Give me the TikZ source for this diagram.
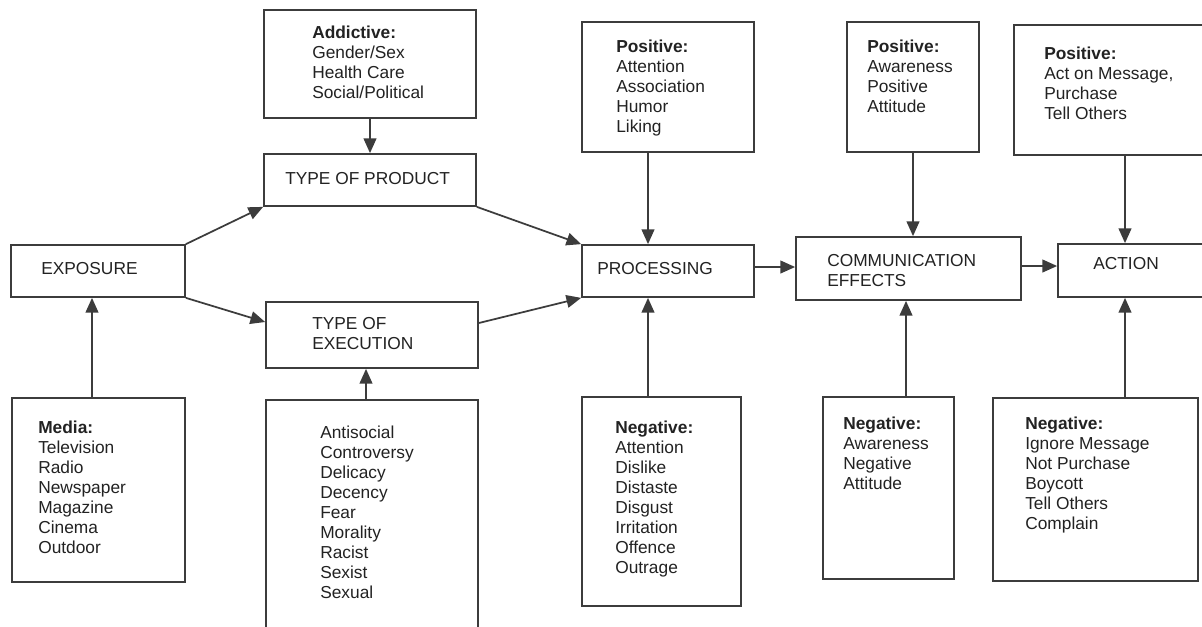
\documentclass[tikz,border=0pt]{standalone}
\usepackage{fontspec}
\setmainfont{Liberation Sans}
\usetikzlibrary{arrows.meta,positioning}

\definecolor{linegray}{HTML}{3C3C3C}
\definecolor{textgray}{HTML}{222222}

\begin{document}
\begin{tikzpicture}[x=0.75pt,y=-0.75pt]

\tikzset{box/.style 2 args={draw=linegray, line width=1.3pt, minimum width=#1*0.75pt, minimum height=#2*0.75pt, inner sep=0pt},
         txt/.style={font=\fontsize{13}{15}\selectfont, text=textgray, inner sep=0pt, align=left},
         flow/.style={draw=linegray, line width=1.3pt, -{Triangle[length=11pt,width=9.5pt]}}}

\useasboundingbox (0,0) rectangle (1202,626);
\fill[white] (0,0) rectangle (1202,626);
\clip (0,0) rectangle (1202,626);

% main chain
\node[box={174}{52}] (expo) at (98,271) {};
\node[txt, anchor=west] (expoT) at (41,269) {EXPOSURE};
\node[box={212}{52}] (prod) at (370,180) {};
\node[txt, anchor=west] (prodT) at (285,179) {TYPE OF PRODUCT};
\node[box={212}{66}] (exec) at (372,335) {};
\node[txt, anchor=north west] (execT) at (312,317) {TYPE OF\\EXECUTION};
\node[box={172}{52}] (proc) at (668,271) {};
\node[txt, anchor=west] (procT) at (597,269) {PROCESSING};
\node[box={225}{63}] (comm) at (908.5,268.5) {};
\node[txt, anchor=north west] (commT) at (827,254) {COMMUNICATION\\EFFECTS};
\node[box={160}{53}] (act) at (1138,270.5) {};
\node[txt, anchor=west] (actT) at (1093,264) {ACTION};

% upper boxes
\node[box={212}{108}] (addict) at (370,64) {};
\node[txt, anchor=north west] (addictT) at (312,26) {\textbf{Addictive:}\\Gender/Sex\\Health Care\\Social/Political};
\node[box={172}{130}] (procpos) at (668,87) {};
\node[txt, anchor=north west] (procposT) at (616,40) {\textbf{Positive:}\\Attention\\Association\\Humor\\Liking};
\node[box={132}{130}] (commpos) at (913,87) {};
\node[txt, anchor=north west] (commposT) at (867,40) {\textbf{Positive:}\\Awareness\\Positive\\Attitude};
\node[box={206}{130}] (actpos) at (1117,90) {};
\node[txt, anchor=north west] (actposT) at (1044,47) {\textbf{Positive:}\\Act on Message,\\Purchase\\Tell Others};

% lower boxes
\node[box={173}{184}] (media) at (98.5,490) {};
\node[txt, anchor=north west] (mediaT) at (38,421) {\textbf{Media:}\\Television\\Radio\\Newspaper\\Magazine\\Cinema\\Outdoor};
\node[box={212}{250}] (appeal) at (372,525) {};
\node[txt, anchor=north west] (appealT) at (320,426) {Antisocial\\Controversy\\Delicacy\\Decency\\Fear\\Morality\\Racist\\Sexist\\Sexual};
\node[box={159}{209}] (procneg) at (661.5,501.5) {};
\node[txt, anchor=north west] (procnegT) at (615,421) {\textbf{Negative:}\\Attention\\Dislike\\Distaste\\Disgust\\Irritation\\Offence\\Outrage};
\node[box={131}{182}] (commneg) at (888.5,488) {};
\node[txt, anchor=north west] (commnegT) at (843,417) {\textbf{Negative:}\\Awareness\\Negative\\Attitude};
\node[box={205}{183}] (actneg) at (1095.5,489.5) {};
\node[txt, anchor=north west] (actnegT) at (1025,417) {\textbf{Negative:}\\Ignore Message\\Not Purchase\\Boycott\\Tell Others\\Complain};

% connectors
\draw[flow] (expo.north east) -- (prod.south west);
\draw[flow] (expo.south east) -- (exec.west |- 0,322);
\draw[flow] (prod.south east) -- (proc.north west);
\draw[flow] (exec.east |- 0,323) -- (proc.south west);
\draw[flow] (proc.east |- 0,267) -- (comm.west |- 0,267);
\draw[flow] (comm.east |- 0,266) -- (act.west |- 0,266);
\draw[flow] (addict.south) -- (prod.north);
\draw[flow] (procpos.south -| 648,0) -- (proc.north -| 648,0);
\draw[flow] (commpos.south) -- (comm.north -| commpos.south);
\draw[flow] (actpos.south -| 1125,0) -- (act.north -| 1125,0);
\draw[flow] (media.north -| 92,0) -- (expo.south -| 92,0);
\draw[flow] (appeal.north -| 366,0) -- (exec.south -| 366,0);
\draw[flow] (procneg.north -| 648,0) -- (proc.south -| 648,0);
\draw[flow] (commneg.north -| 906,0) -- (comm.south -| 906,0);
\draw[flow] (actneg.north -| 1125,0) -- (act.south -| 1125,0);

\end{tikzpicture}
\end{document}
